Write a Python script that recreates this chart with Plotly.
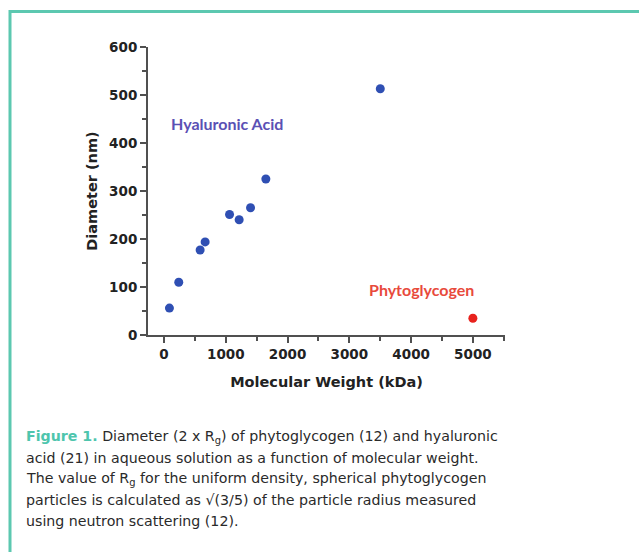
import plotly.graph_objects as go

# Data
ha_mw = [87, 238, 584, 665, 1060, 1216, 1400, 1648, 3501]
ha_diam = [56, 110, 177, 194, 251, 240, 265, 325, 513]
pg_mw = [5000]
pg_diam = [35]

x_ticks = [0, 1000, 2000, 3000, 4000, 5000]
y_ticks = [0, 100, 200, 300, 400, 500, 600]

caption_lines = [
    "<span style='color:#4ec5ad'><b>Figure 1.</b></span> Diameter (2 x R<sub>g</sub>) of phytoglycogen (12) and hyaluronic",
    "acid (21) in aqueous solution as a function of molecular weight.",
    "The value of R<sub>g</sub> for the uniform density, spherical phytoglycogen",
    "particles is calculated as √(3/5) of the particle radius measured",
    "using neutron scattering (12).",
]

W, H = 639, 552
L, R, T, B = 148, 505, 47, 335  # plot area pixels


def px(x):
    return (x - L) / (R - L)


def py(y):
    return (B - y) / (B - T)


fig = go.Figure()
fig.add_trace(go.Scatter(x=ha_mw, y=ha_diam, mode="markers",
                         marker=dict(size=9, color="#2f4fb3"),
                         cliponaxis=False, showlegend=False))
fig.add_trace(go.Scatter(x=pg_mw, y=pg_diam, mode="markers",
                         marker=dict(size=9, color="#e8221d"),
                         cliponaxis=False, showlegend=False))

axis_common = dict(showline=True, linecolor="#505050", linewidth=2,
                   ticks="outside", ticklen=6, tickwidth=1.5, tickcolor="#505050",
                   showgrid=False, zeroline=False, automargin=False,
                   tickfont=dict(family="DejaVu Sans", size=13.5, color="#222", weight="bold"))

fig.update_xaxes(range=[-260, 5520], tickvals=x_ticks,
                 minor=dict(dtick=500, tick0=0, ticks="outside", ticklen=4, tickcolor="#505050"),
                 title=dict(text="Molecular Weight (kDa)",
                            font=dict(family="DejaVu Sans", size=14.5, color="#222", weight="bold"),
                            standoff=16),
                 **axis_common)
fig.update_yaxes(range=[0, 600], tickvals=y_ticks,
                 minor=dict(dtick=50, tick0=0, ticks="outside", ticklen=4, tickcolor="#505050"),
                 title=dict(text="Diameter (nm)",
                            font=dict(family="DejaVu Sans", size=14.5, color="#222", weight="bold"),
                            standoff=8),
                 **axis_common)

fig.add_annotation(x=1011, y=441, text="<b>Hyaluronic Acid</b>", showarrow=False,
                   font=dict(family="Lato", size=16, color="#5a50b4"))
fig.add_annotation(x=4172, y=95, text="<b>Phytoglycogen</b>", showarrow=False,
                   font=dict(family="Lato", size=16, color="#e84a3c"))

line_y = [437, 458, 479, 500, 521]
for txt, yy in zip(caption_lines, line_y):
    fig.add_annotation(xref="paper", yref="paper", x=px(24), y=py(yy), xanchor="left", yanchor="middle",
                       text=txt, showarrow=False, align="left",
                       font=dict(family="DejaVu Sans", size=14.2, color="#2a2a2a"))

teal = "#5cc8b0"
fig.add_shape(type="line", xref="paper", yref="paper", x0=px(10), x1=px(10), y0=py(10), y1=py(552),
              line=dict(color=teal, width=3))
fig.add_shape(type="line", xref="paper", yref="paper", x0=px(9), x1=px(639), y0=py(11.5), y1=py(11.5),
              line=dict(color=teal, width=3))

fig.update_layout(width=W, height=H, plot_bgcolor="white", paper_bgcolor="white",
                  margin=dict(l=L, r=W - R, t=T, b=H - B, autoexpand=False))

fig.write_html("out.html", config={"displayModeBar": False},
               post_script="document.body.style.margin='0px';")
